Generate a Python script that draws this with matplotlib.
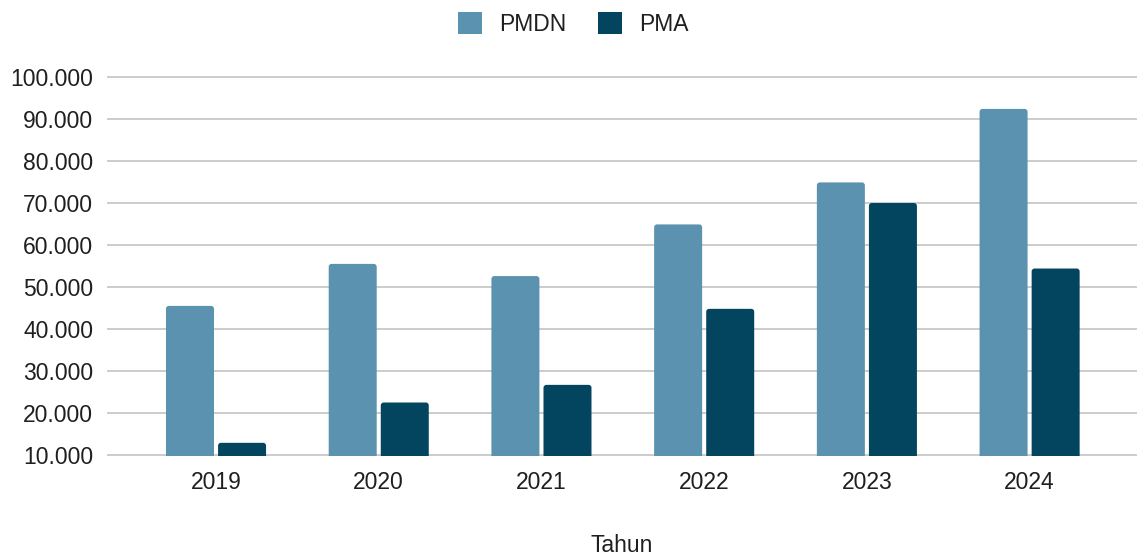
import matplotlib.pyplot as plt
import numpy as np
from matplotlib.patches import Patch, FancyBboxPatch
from matplotlib.ticker import FuncFormatter

plt.rcParams['font.family'] = ['Liberation Sans', 'DejaVu Sans']

tahun = ['2019', '2020', '2021', '2022', '2023', '2024']
pmdn = [45500, 55500, 52600, 64900, 74900, 92400]
pma = [12900, 22500, 26700, 44800, 70000, 54400]

c_pmdn = '#5a92af'
c_pma = '#03455f'
txt = '#1f1f1f'
fs = 16.5

fig = plt.figure(figsize=(11.37, 5.58), dpi=100)
# axes area in pixels: x 107..1137, y 77..455 (with a little room for the edge gridlines)
px_per_unit = 378 / 90000
pad = 200
ax = fig.add_axes([107 / 1137, (558 - 455 - pad * px_per_unit) / 558,
                   1030 / 1137, (378 + 2 * pad * px_per_unit) / 558])

x = np.arange(len(tahun))
w = 0.295
off = 0.16
b1 = ax.bar(x - off, pmdn, width=w, color=c_pmdn, zorder=3)
b2 = ax.bar(x + off, pma, width=w, color=c_pma, zorder=3)

# swap the plain rectangles for ones with slightly rounded corners
for bars, col in [(b1, c_pmdn), (b2, c_pma)]:
    for r in bars:
        fb = FancyBboxPatch((r.get_x(), r.get_y()), r.get_width(), r.get_height(),
                            boxstyle='round,pad=0,rounding_size=0.018',
                            mutation_aspect=38000, facecolor=col, edgecolor='none', zorder=3)
        ax.add_patch(fb)
        r.remove()

ax.set_xlim(-0.67, 5.66)
ax.set_ylim(10000 - pad, 100000 + pad)
ax.set_yticks(np.arange(10000, 100001, 10000))
ax.yaxis.set_major_formatter(FuncFormatter(lambda v, p: f'{int(v):,}'.replace(',', '.')))
ax.set_xticks(x)
ax.set_xticklabels(tahun)

ax.grid(axis='y', color='#cccccc', linewidth=1.4, zorder=0)
ax.set_axisbelow(True)
for s in ax.spines.values():
    s.set_visible(False)
ax.tick_params(axis='both', length=0, labelsize=fs, colors=txt)
ax.tick_params(axis='y', pad=10)
ax.tick_params(axis='x', pad=11)

fig.text(622 / 1137, 1 - 546 / 558, 'Tahun', ha='center', va='center', fontsize=fs, color=txt)

handles = [Patch(facecolor=c_pmdn, label='PMDN'), Patch(facecolor=c_pma, label='PMA')]
fig.legend(handles=handles, loc='center', bbox_to_anchor=(573 / 1137, 1 - 24 / 558), ncol=2,
           frameon=False, fontsize=fs, handlelength=1.05, handleheight=1.05,
           handletextpad=0.74, columnspacing=1.39, labelcolor=txt)

fig.savefig('out.png', dpi=100)
